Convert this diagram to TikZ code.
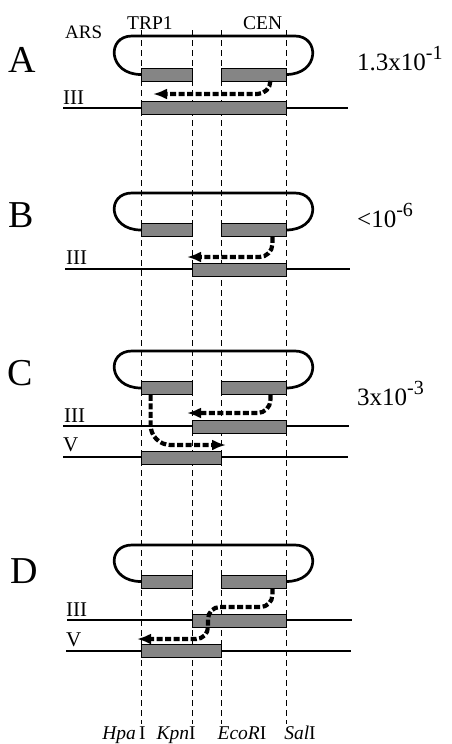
\documentclass[tikz,border=0pt]{standalone}
\usepackage{fontspec}
\setmainfont{Liberation Serif}
\usetikzlibrary{arrows.meta}

% plasmid loop: top strand from the left arc to the right arc, ends at the segment centres
\newcommand{\drawloop}[2]{%
  \draw[plasmid] (141,#2) .. controls (108,#2) and (106,#1) .. (132,#1)
    -- (295,#1) .. controls (320,#1) and (320,#2) .. (286,#2);}
% exponent of a frequency
\newcommand{\expo}[1]{\raisebox{0.42em}{\fontsize{20}{20}\selectfont #1}}

\begin{document}
\begin{tikzpicture}[x=1pt,y=-1pt,
  chrom/.style={line width=2.8pt},
  plasmid/.style={line width=2.7pt},
  seg/.style={draw, line width=0.8pt, fill=black!48, rectangle, inner sep=0pt, minimum height=13pt},
  guide/.style={line width=0.7pt, dash pattern=on 6pt off 4pt},
  recomb/.style={line width=4.2pt, dash pattern=on 6pt off 2.5pt,
    -{Latex[length=14pt,width=11pt]}, rounded corners=13pt},
  panel/.style={font=\fontsize{38}{38}\selectfont, anchor=base west, inner sep=0pt},
  chrlabel/.style={font=\fontsize{21}{21}\selectfont, anchor=base west, inner sep=0pt},
  gene/.style={font=\fontsize{19.5}{19.5}\selectfont, anchor=base west, inner sep=0pt},
  rate/.style={font=\fontsize{25}{25}\selectfont, anchor=base west, inner sep=0pt},
  site/.style={font=\fontsize{19.5}{19.5}\selectfont, anchor=base, inner sep=0pt}
]
\fill[white] (0,0) rectangle (451,744);
\useasboundingbox (0,0) rectangle (451,744);

% restriction-site guide lines
\draw[guide] (141,30) -- (141,724);
\draw[guide] (192,30) -- (192,724);
\draw[guide] (221,30) -- (221,724);
\draw[guide] (286,30) -- (286,724);

% ---------- A ----------
\node[panel] (pA) at (8,72) {A};
\node[gene, font=\fontsize{19}{19}\selectfont] (ars) at (65,38) {ARS};
\node[gene] (trp) at (127,29) {TRP1};
\node[gene] (cen) at (243,29) {CEN};
\node[rate] (rA) at (357,70) {1.3x10\expo{-1}};
\drawloop{36}{74.5}
\node[seg, minimum width=51pt] (aL) at (166.5,74.5) {};
\node[seg, minimum width=65pt] (aR) at (253.5,74.5) {};
\draw[chrom] (63,108) -- (348,108);
\node[seg, minimum width=145pt] (a3) at (213.5,108) {};
\node[chrlabel] (aIII) at (63,104) {III};
\coordinate (aT) at (153,94);
\draw[recomb] ([xshift=-16pt]aR.south east) |- (aT);

% ---------- B ----------
\node[panel] (pB) at (8,227) {B};
\node[rate] (rB) at (357,227) {<10\expo{-6}};
\drawloop{193}{230}
\node[seg, minimum width=51pt] (bL) at (166.5,230) {};
\node[seg, minimum width=65pt] (bR) at (253.5,230) {};
\draw[chrom] (65,269) -- (350,269);
\node[seg, minimum width=94pt] (b3) at (239,269.5) {};
\node[chrlabel] (bIII) at (66,264) {III};
\coordinate (bT) at (187,257);
\draw[recomb] ([xshift=-14pt]bR.south east) |- (bT);

% ---------- C ----------
\node[panel] (pC) at (7,385) {C};
\node[rate] (rC) at (357,405) {3x10\expo{-3}};
\drawloop{351}{388}
\node[seg, minimum width=51pt] (cL) at (166.5,388) {};
\node[seg, minimum width=65pt] (cR) at (253.5,388) {};
\draw[chrom] (63,426) -- (349,426);
\node[seg, minimum width=94pt] (c3) at (239,426.5) {};
\draw[chrom] (63,457) -- (348,457);
\node[seg, minimum width=80pt] (c5) at (181,457.5) {};
\node[chrlabel] (cIII) at (64,422) {III};
\node[chrlabel] (cV) at (63,451) {V};
\coordinate (cT3) at (187,413);
\coordinate (cT5) at (226,445);
\draw[recomb] ([xshift=-16pt]cR.south east) |- (cT3);
\draw[recomb, rounded corners=20pt] ([xshift=10pt]cL.south west) |- (cT5);

% ---------- D ----------
\node[panel] (pD) at (10,583) {D};
\drawloop{545}{581.5}
\node[seg, minimum width=51pt] (dL) at (166.5,581.5) {};
\node[seg, minimum width=65pt] (dR) at (253.5,581.5) {};
\draw[chrom] (67,620) -- (352,620);
\node[seg, minimum width=94pt] (d3) at (239,620.5) {};
\draw[chrom] (66,651) -- (351,651);
\node[seg, minimum width=80pt] (d5) at (181,651) {};
\node[chrlabel] (dIII) at (66,616) {III};
\node[chrlabel] (dV) at (66,646) {V};
\coordinate (dM) at (208,607);
\coordinate (dT) at (137,639);
\draw[recomb, rounded corners=12pt] ([xshift=-14pt]dR.south east) |- (dM) |- (dT);

% ---------- restriction sites ----------
\node[site] (hpa) at (124,739) {\textit{Hpa}\,I};
\node[site] (kpn) at (176,739) {\textit{Kpn}I};
\node[site] (eco) at (242,739) {\textit{EcoR}I};
\node[site] (sal) at (300,739) {\textit{Sal}I};
\end{tikzpicture}
\end{document}
